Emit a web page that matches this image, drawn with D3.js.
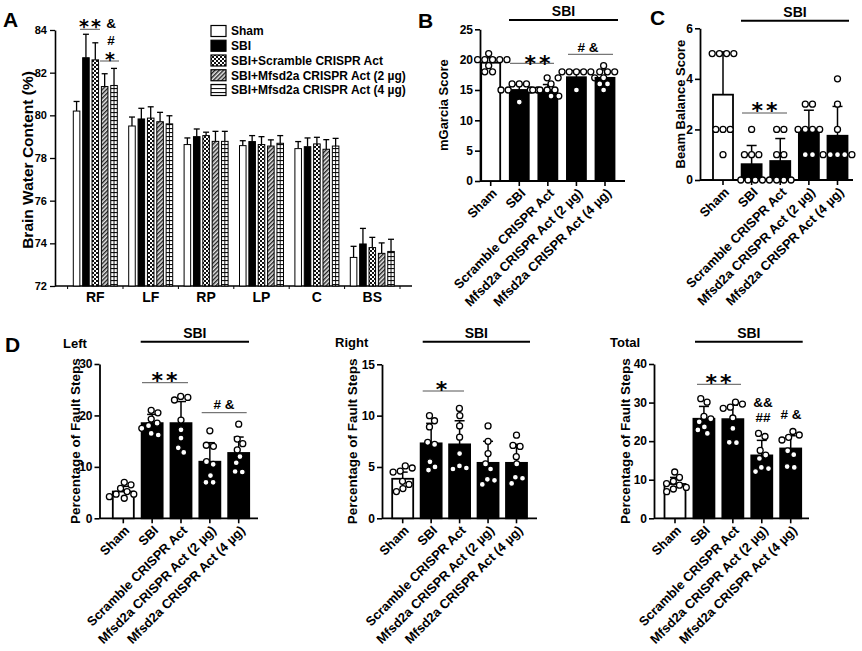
<!DOCTYPE html>
<html><head><meta charset="utf-8">
<script src="https://cdn.jsdelivr.net/npm/d3@7"></script>
<style>
body{margin:0;background:#fff}
svg{display:block;font-family:Arial,"Liberation Sans",Helvetica,sans-serif;font-weight:bold}
</style></head><body>
<svg id="c" width="862" height="651"></svg>
<script>
// ---------------- DATA ----------------
const regions = ["RF","LF","RP","LP","C","BS"];
const waterTicks = [72,74,76,78,80,82,84];
const legendLabels = ["Sham","SBI","SBI+Scramble CRISPR Act","SBI+Mfsd2a CRISPR Act (2 µg)","SBI+Mfsd2a CRISPR Act (4 µg)"];
const waterSham     = [80.2, 79.5, 78.63, 78.58, 78.44, 73.34];
const waterSBI      = [82.7, 79.83, 79.0, 78.77, 78.53, 73.97];
const waterScramble = [82.6, 79.87, 79.05, 78.63, 78.66, 73.8];
const waterAct2     = [81.35, 79.7, 78.78, 78.56, 78.41, 73.53];
const waterAct4     = [81.4, 79.6, 78.78, 78.69, 78.56, 73.62];
const waterShamSD     = [0.45, 0.42, 0.31, 0.23, 0.33, 0.52];
const waterSBISD      = [1.1, 0.5, 0.36, 0.28, 0.41, 0.73];
const waterScrambleSD = [0.8, 0.53, 0.16, 0.37, 0.31, 0.48];
const waterAct2SD     = [0.6, 0.44, 0.47, 0.29, 0.45, 0.49];
const waterAct4SD     = [0.8, 0.38, 0.47, 0.36, 0.36, 0.57];

const groups = ["Sham","SBI","Scramble CRISPR Act","Mfsd2a CRISPR Act (2 µg)","Mfsd2a CRISPR Act (4 µg)"];

const garciaTicks = [0,5,10,15,20,25];
const garciaMean = [19.5, 15.0, 15.0, 17.1, 17.0];
const garciaSD   = [0.8, 0.9, 0.9, 1.1, 1.3];
const garciaPts  = [
  [21,20,20,20,20,20,19,18,18],
  [16,16,16,15,15,15,15,13],
  [17,16,15,15,15,15,14,14],
  [18,18,18,18,18,17,17,15],
  [19,18,18,18,17,16,16,15]
];

const beamTicks = [0,2,4,6];
const beamMean = [3.375, 0.625, 0.75, 2.0, 1.75];
const beamSD   = [1.69, 0.74, 0.89, 0.76, 1.16];
const beamPts  = [
  [5,5,5,5,2,2,2,1],
  [2,1,1,1,0,0,0,0],
  [2,2,1,1,0,0,0,0],
  [3,3,2,2,2,2,1,1],
  [4,3,2,1,1,1,1,1]
];

const leftTicks = [0,10,20,30];
const leftMean = [5.2, 18.5, 18.5, 11.0, 12.7];
const leftSD   = [1.0, 1.7, 4.2, 3.7, 3.1];
const leftPts  = [
  [7.0, 6.5, 5.8, 5.2, 4.7, 4.7, 4.2, 3.9],
  [21.0, 20.5, 19.3, 18.5, 18.0, 17.5, 16.5, 16.2],
  [23.7, 23.5, 23.0, 19.1, 17.2, 15.6, 13.7, 12.8],
  [17.0, 14.2, 14.0, 11.0, 10.5, 8.3, 7.0, 7.0],
  [18.3, 15.4, 14.5, 13.3, 12.0, 10.8, 9.1, 9.0]
];

const rightTicks = [0,5,10,15];
const rightMean = [3.85, 7.3, 7.2, 5.4, 5.4];
const rightSD   = [0.65, 1.95, 2.3, 2.1, 1.8];
const rightPts  = [
  [5.1, 4.9, 4.6, 4.5, 3.6, 3.3, 2.9, 2.6],
  [10.0, 9.5, 8.9, 7.4, 7.2, 5.5, 5.0, 4.7],
  [10.7, 10.0, 9.0, 7.9, 6.3, 5.1, 4.8, 4.9],
  [9.0, 7.5, 6.3, 5.3, 4.8, 3.8, 3.7, 3.3],
  [8.1, 7.1, 7.0, 6.0, 5.3, 4.0, 3.9, 3.4]
];

const totalTicks = [0,10,20,30,40];
const totalMean = [8.9, 25.8, 25.7, 16.3, 18.1];
const totalSD   = [1.7, 3.2, 3.6, 3.9, 3.3];
const totalPts  = [
  [12.0, 10.6, 9.6, 9.0, 8.6, 8.0, 7.6, 6.9],
  [31.0, 30.1, 26.4, 25.8, 25.0, 23.7, 22.9, 22.0],
  [30.1, 29.6, 28.8, 28.5, 26.0, 23.3, 19.6, 19.7],
  [22.0, 21.2, 17.6, 16.4, 15.5, 13.2, 12.9, 12.1],
  [22.5, 21.6, 21.0, 20.3, 17.5, 16.5, 13.4, 13.2]
];

// ---------------- DRAW ----------------
const svg = d3.select("#c");
const defs = svg.append("defs");
const chk = defs.append("pattern").attr("id","chk").attr("patternUnits","userSpaceOnUse").attr("width",4).attr("height",4);
chk.append("rect").attr("width",4).attr("height",4).attr("fill","#fff");
chk.append("rect").attr("width",2).attr("height",2).attr("fill","#111");
chk.append("rect").attr("x",2).attr("y",2).attr("width",2).attr("height",2).attr("fill","#111");
const diag = defs.append("pattern").attr("id","diag").attr("patternUnits","userSpaceOnUse").attr("width",3).attr("height",3).attr("patternTransform","rotate(45)");
diag.append("rect").attr("width",3).attr("height",3).attr("fill","#e6e6e6");
diag.append("rect").attr("width",1.4).attr("height",3).attr("fill","#222");
const hs = defs.append("pattern").attr("id","hstr").attr("patternUnits","userSpaceOnUse").attr("width",4).attr("height",4);
hs.append("rect").attr("width",4).attr("height",4).attr("fill","#fff");
hs.append("rect").attr("y",0).attr("width",4).attr("height",1.1).attr("fill","#111");
const fills = ["#fff","#000","url(#chk)","url(#diag)","url(#hstr)"];

const AST = "'DejaVu Sans',sans-serif";
const intFmt = d3.format("d");

function panelLetter(t,x,y){
  svg.append("text").attr("x",x).attr("y",y).attr("font-size",21).text(t);
}

// ---- Panel A ----
(function(){
  const g = svg.append("g");
  const y = d3.scaleLinear().domain([72,84]).range([286,30]);
  const x = d3.scaleBand().domain(regions).range([67.6,400]);
  const xi = d3.scaleBand().domain(d3.range(5)).range([-22,22]).paddingInner(0.3);
  const series = [waterSham, waterSBI, waterScramble, waterAct2, waterAct4];
  const sds = [waterShamSD, waterSBISD, waterScrambleSD, waterAct2SD, waterAct4SD];
  const ya = g.append("g").attr("transform","translate(55,0)")
    .call(d3.axisLeft(y).tickValues(waterTicks).tickFormat(intFmt).tickSize(5).tickSizeOuter(0).tickPadding(3));
  ya.select(".domain").attr("stroke-width",1.6);
  ya.selectAll(".tick line").attr("stroke-width",1.3);
  ya.selectAll(".tick text").attr("font-size",11).attr("font-weight","bold").attr("font-family","Arial,'Liberation Sans',sans-serif");
  g.append("line").attr("x1",55).attr("x2",412).attr("y1",286).attr("y2",286).attr("stroke","#000").attr("stroke-width",1.6);
  const bounds = regions.map(r=>x(r)).concat([x.range()[1]]);
  g.selectAll(".mt").data(bounds).join("line").attr("x1",d=>d).attr("x2",d=>d).attr("y1",286).attr("y2",289).attr("stroke","#000").attr("stroke-width",1);
  g.selectAll(".xl").data(regions).join("text").attr("x",d=>x(d)+x.bandwidth()/2).attr("y",302)
    .attr("text-anchor","middle").attr("font-size",14).text(d=>d);
  series.forEach((s,k)=>{
    s.forEach((v,i)=>{
      const cx = x(regions[i])+x.bandwidth()/2 + xi(k);
      const w = xi.bandwidth();
      const ye = y(v+sds[k][i]);
      g.append("line").attr("x1",cx+w/2).attr("x2",cx+w/2).attr("y1",y(v)).attr("y2",ye).attr("stroke","#000").attr("stroke-width",1.3);
      g.append("line").attr("x1",cx+w/2-3).attr("x2",cx+w/2+3).attr("y1",ye).attr("y2",ye).attr("stroke","#000").attr("stroke-width",1.3);
      g.append("rect").attr("x",cx).attr("y",y(v)).attr("width",w).attr("height",y(72)-y(v))
        .attr("fill",fills[k]).attr("stroke","#000").attr("stroke-width",1);
      if(k===4){
        g.append("line").attr("x1",cx+w/2).attr("x2",cx+w/2).attr("y1",y(v)).attr("y2",y(72)).attr("stroke","#000").attr("stroke-width",0.9);
      }
    });
  });
  const ly = d3.scalePoint().domain(legendLabels).range([31,90]);
  legendLabels.forEach((l,k)=>{
    g.append("rect").attr("x",211).attr("y",ly(l)-5.5).attr("width",15).attr("height",11).attr("fill",fills[k]).attr("stroke","#000").attr("stroke-width",1.2);
    g.append("text").attr("x",231).attr("y",ly(l)).attr("dy","0.36em").attr("font-size",12).text(l);
  });
  g.append("line").attr("x1",80).attr("x2",100).attr("y1",29.3).attr("y2",29.3).attr("stroke","#555").attr("stroke-width",1);
  g.append("line").attr("x1",100).attr("x2",119).attr("y1",61).attr("y2",61).attr("stroke","#555").attr("stroke-width",1);
  g.append("text").attr("x",91).attr("y",33).attr("text-anchor","middle").attr("font-family",AST).attr("font-size",19).attr("letter-spacing",2).text("**");
  g.append("text").attr("x",111).attr("y",28).attr("text-anchor","middle").attr("font-size",13.5).text("&");
  g.append("text").attr("x",111).attr("y",45).attr("text-anchor","middle").attr("font-size",13.5).text("#");
  g.append("text").attr("x",110).attr("y",66).attr("text-anchor","middle").attr("font-family",AST).attr("font-size",19).text("*");
  g.append("text").attr("transform","translate(28,160) rotate(-90)").attr("text-anchor","middle").attr("dy","0.35em").attr("font-size",15.5).text("Brain Water Content (%)");
})();
panelLetter("A",3,27);

function swarm(vals, yScale, d){
  const pts = vals.map(v=>({v, y:yScale(v), x:0}));
  const sorted = pts.slice().sort((a,b)=>a.y-b.y);
  const clusters = [];
  sorted.forEach(p=>{
    const last = clusters[clusters.length-1];
    if(last && p.y - last[last.length-1].y < d) last.push(p); else clusters.push([p]);
  });
  clusters.forEach(cl=>{
    const placed = [];
    cl.forEach(p=>{
      const cands = [0];
      placed.forEach(q=>{const dy=p.y-q.y; if(Math.abs(dy)<d){const dx=Math.sqrt(d*d-dy*dy); cands.push(q.x+dx,q.x-dx);}});
      cands.sort((a,b)=>Math.abs(a)-Math.abs(b));
      for(const c of cands){ if(placed.every(q=>(q.x-c)**2+(q.y-p.y)**2 >= d*d-0.01)){p.x=c;break;} }
      placed.push(p);
    });
    const m = d3.mean(cl,p=>p.x); cl.forEach(p=>p.x-=m);
  });
  return pts;
}

function scatterBar(cfg){
  const g = svg.append("g");
  const y = d3.scaleLinear().domain(cfg.domain).range([cfg.y0, cfg.y1]);
  const x = d3.scalePoint().domain(groups).range([cfg.c0, cfg.c1]);
  const ya = g.append("g").attr("transform",`translate(${cfg.axisX},0)`)
    .call(d3.axisLeft(y).tickValues(cfg.ticks).tickFormat(intFmt).tickSize(5).tickSizeOuter(0).tickPadding(2));
  ya.select(".domain").attr("stroke-width",1.8);
  ya.selectAll(".tick line").attr("stroke-width",1.6);
  ya.selectAll(".tick text").attr("font-size",12).attr("font-weight","bold").attr("font-family","Arial,'Liberation Sans',sans-serif");
  g.append("line").attr("x1",cfg.axisX).attr("x2",cfg.xEnd).attr("y1",cfg.y0).attr("y2",cfg.y0).attr("stroke","#000").attr("stroke-width",1.8);
  groups.forEach((grp,i)=>{
    const cx = x(grp);
    g.append("line").attr("x1",cx).attr("x2",cx).attr("y1",cfg.y0).attr("y2",cfg.y0+5).attr("stroke","#000").attr("stroke-width",1.6);
    g.append("text").attr("transform",`translate(${cx+7},${cfg.y0+13}) rotate(-45)`).attr("text-anchor","end").attr("font-size",13).text(grp);
    const m = cfg.means[i], sd = cfg.sds[i];
    const ye = y(m+sd);
    g.append("line").attr("x1",cx).attr("x2",cx).attr("y1",y(m)).attr("y2",ye).attr("stroke","#000").attr("stroke-width",1.5);
    g.append("line").attr("x1",cx-5).attr("x2",cx+5).attr("y1",ye).attr("y2",ye).attr("stroke","#000").attr("stroke-width",1.5);
    g.append("rect").attr("x",cx-cfg.barW/2).attr("y",y(m)).attr("width",cfg.barW).attr("height",cfg.y0-y(m))
      .attr("fill", i===0?"#fff":"#000").attr("stroke","#000").attr("stroke-width",1.8);
    const pts = swarm(cfg.pts[i], y, 7.2);
    g.selectAll(null).data(pts).join("circle").attr("cx",p=>cx+p.x).attr("cy",p=>p.y).attr("r",3)
      .attr("fill","#fff").attr("stroke","#000").attr("stroke-width",1.3);
  });
  g.append("text").attr("transform",`translate(${cfg.titleX},${(cfg.y0+cfg.y1)/2}) rotate(-90)`).attr("text-anchor","middle").attr("dy","0.35em").attr("font-size",cfg.titleSize||13).text(cfg.title);
  g.append("line").attr("x1",cfg.hdr[0]).attr("x2",cfg.hdr[1]).attr("y1",cfg.hdr[2]).attr("y2",cfg.hdr[2]).attr("stroke","#000").attr("stroke-width",2);
  g.append("text").attr("x",(cfg.hdr[0]+cfg.hdr[1])/2).attr("y",cfg.hdr[2]-4).attr("text-anchor","middle").attr("font-size",14).text("SBI");
  (cfg.sig||[]).forEach(s=>{
    if(s.line) g.append("line").attr("x1",s.line[0]).attr("x2",s.line[1]).attr("y1",s.line[2]).attr("y2",s.line[2]).attr("stroke","#555").attr("stroke-width",1);
    const isAst = /^\*+$/.test(s.t);
    g.append("text").attr("x",s.x).attr("y",s.y).attr("text-anchor","middle")
      .attr("font-family",isAst?AST:null).attr("font-size",isAst?22:13.5).attr("letter-spacing",isAst?3:0).text(s.t);
  });
  return g;
}

scatterBar({axisX:480,y0:181,y1:29.3,xEnd:625,c0:490.7,c1:605,domain:[0,25],ticks:garciaTicks,
  means:garciaMean,sds:garciaSD,pts:garciaPts,title:"mGarcia Score",titleX:443,barW:19,
  hdr:[509,618,20],
  sig:[{t:"**",x:539,y:71,line:[510,554,63.3]},{t:"# &",x:588,y:52,line:[568,613,54.3]}]});
panelLetter("B",418,28);

scatterBar({axisX:700,y0:180,y1:28.3,xEnd:853,c0:723,c1:837.5,domain:[0,6],ticks:beamTicks,
  means:beamMean,sds:beamSD,pts:beamPts,title:"Beam Balance Score",titleX:680,barW:20,
  hdr:[741,849,20.7],
  sig:[{t:"**",x:766,y:118,line:[742,787,113]}]});
panelLetter("C",650,25);

scatterBar({axisX:99.5,y0:518.3,y1:364,xEnd:258,c0:123.3,c1:238.7,domain:[0,30],ticks:leftTicks,
  means:leftMean,sds:leftSD,pts:leftPts,title:"Percentage of Fault Steps",titleX:75,barW:21,titleSize:13.5,
  hdr:[140.7,249,341.7],
  sig:[{t:"**",x:166,y:388,line:[142,188,382.7]},{t:"# &",x:224,y:409,line:[201.7,246.7,412.7]}]});
svg.append("text").attr("x",63).attr("y",348).attr("font-size",13).text("Left");
panelLetter("D",5,352);

scatterBar({axisX:382,y0:518.3,y1:364.3,xEnd:537,c0:402.7,c1:516.5,domain:[0,15],ticks:rightTicks,
  means:rightMean,sds:rightSD,pts:rightPts,title:"Percentage of Fault Steps",titleX:352,barW:21,titleSize:13.5,
  hdr:[422.7,530,341.7],
  sig:[{t:"*",x:443,y:397,line:[422.7,464,391]}]});
svg.append("text").attr("x",335).attr("y",347).attr("font-size",13).text("Right");

scatterBar({axisX:654,y0:518.3,y1:364,xEnd:809,c0:675,c1:790.7,domain:[0,40],ticks:totalTicks,
  means:totalMean,sds:totalSD,pts:totalPts,title:"Percentage of Fault Steps",titleX:625,barW:21,titleSize:13.5,
  hdr:[695,802.7,341.7],
  sig:[{t:"**",x:720,y:390,line:[697,741,384.3]},{t:"&&",x:763,y:407},{t:"##",x:763,y:422},{t:"# &",x:791,y:419}]});
svg.append("text").attr("x",610).attr("y",347).attr("font-size",13).text("Total");
</script>
</body></html>
